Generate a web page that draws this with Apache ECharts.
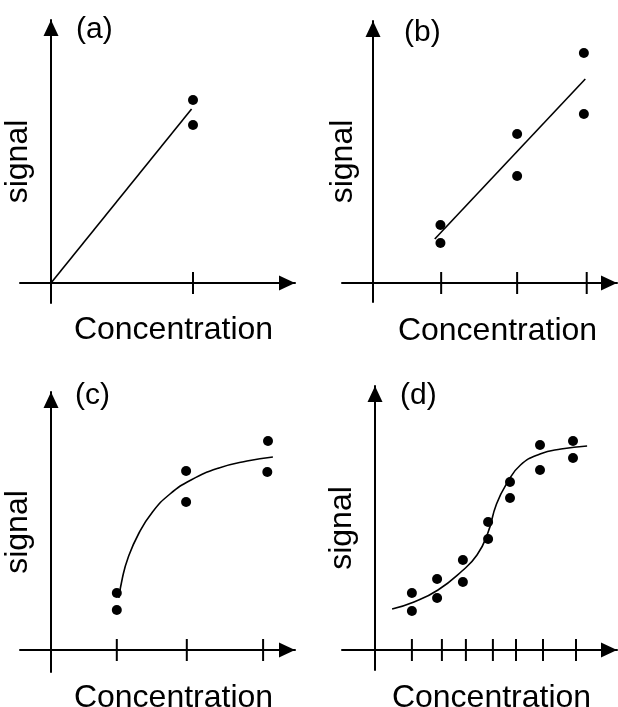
<!DOCTYPE html>
<html>
<head>
<meta charset="utf-8">
<script src="https://cdn.jsdelivr.net/npm/echarts@6/dist/echarts.min.js"></script>
<style>
  html, body { margin: 0; padding: 0; background: #fff; }
  #chart { width: 618px; height: 707px; }
</style>
</head>
<body>
<div id="chart"></div>
<script>
// ---------- DATA (concentration, signal) ----------
const xAxisName = 'Concentration';
const yAxisName = 'signal';
const panelLabels = ['(a)', '(b)', '(c)', '(d)'];

// (a) single standard, line through origin
const ticksA = [1.0];
const pointsA = [[1.0, 9.15], [1.0, 7.9]];
const fitA = [[0, 0], [0.99, 8.7]];

// (b) linear calibration
const ticksB = [0.96, 2.03, 3.01];
const pointsB = [[0.95, 2.9], [0.95, 2.0], [2.03, 7.45], [2.03, 5.35], [2.97, 11.5], [2.97, 8.45]];
const fitB = [[0.87, 2.2], [2.99, 10.2]];

// (c) saturating calibration
const ticksC = [0.94, 1.94, 3.03];
const pointsC = [[0.94, 2.85], [0.94, 2.0], [1.93, 8.95], [1.93, 7.4], [3.1, 10.45], [3.09, 8.9]];
const fitC = [[0.97, 2.6], [1.02, 3.6], [1.1, 4.6], [1.25, 5.8], [1.45, 6.9], [1.7, 7.8],
              [2.0, 8.5], [2.4, 9.1], [2.8, 9.45], [3.17, 9.65]];

// (d) sigmoidal calibration
const ticksD = [1.23, 2.23, 3.03, 3.93, 4.7, 5.6, 6.7];
const pointsD = [[1.23, 2.85], [1.23, 1.95], [2.07, 3.55], [2.07, 2.6], [2.93, 4.5], [2.93, 3.4],
                 [3.77, 6.4], [3.77, 5.55], [4.5, 8.4], [4.5, 7.6], [5.5, 10.25], [5.5, 9.0],
                 [6.6, 10.45], [6.6, 9.6]];
const fitD = [[0.57, 2.05], [1.3, 2.4], [2.1, 3.0], [2.9, 3.95], [3.4, 4.75], [3.75, 5.8],
              [4.05, 7.3], [4.4, 8.35], [4.85, 9.25], [5.5, 9.8], [6.2, 10.05], [7.07, 10.2]];

// ---------- LAYOUT ----------
const FONT = '"Liberation Sans", Arial, Helvetica, sans-serif';
const panels = [
  { xr: [20, 295],  yr: [20, 303],  o: [51, 283],  ux: 142, uy: 20, lab: [76, 15],  pad: 32,
    xGap: 11, yGap: -14, ticks: ticksA, pts: pointsA, fit: fitA, smooth: false },
  { xr: [342, 617], yr: [21, 302],  o: [373, 283], ux: 71,  uy: 20, lab: [404, 18], pad: 36,
    xGap: 13, yGap: -17, ticks: ticksB, pts: pointsB, fit: fitB, smooth: false },
  { xr: [20, 295],  yr: [392, 672], o: [51, 650],  ux: 70,  uy: 20, lab: [75, 381], pad: 32,
    xGap: 10, yGap: -14, ticks: ticksC, pts: pointsC, fit: fitC, smooth: 0.5 },
  { xr: [342, 617], yr: [386, 670], o: [375, 650], ux: 30,  uy: 20, lab: [400, 381], pad: 24,
    xGap: 12, yGap: -16, ticks: ticksD, pts: pointsD, fit: fitD, smooth: 0.5 }
];

const grid = [], xAxis = [], yAxis = [], series = [], title = [];
panels.forEach(function (p, i) {
  grid.push({
    left: p.xr[0], top: p.yr[0],
    width: p.xr[1] - p.xr[0], height: p.yr[1] - p.yr[0],
    containLabel: false, outerBoundsMode: 'none'
  });
  const axisLine = {
    show: true, onZero: true,
    symbol: ['none', 'triangle'], symbolSize: [15, 16], symbolOffset: [0, -8],
    lineStyle: { color: '#000', width: 2 }
  };
  xAxis.push({
    type: 'value', gridIndex: i,
    min: (p.xr[0] - p.o[0]) / p.ux, max: (p.xr[1] - p.o[0]) / p.ux,
    axisLine: axisLine, axisTick: { show: false }, axisLabel: { show: false },
    splitLine: { show: false },
    name: xAxisName, nameLocation: 'middle', nameGap: p.xGap,
    nameTextStyle: { fontSize: 32, fontFamily: FONT, color: '#000', padding: [0, 0, 0, p.pad] }
  });
  yAxis.push({
    type: 'value', gridIndex: i,
    min: (p.o[1] - p.yr[1]) / p.uy, max: (p.o[1] - p.yr[0]) / p.uy,
    axisLine: axisLine, axisTick: { show: false }, axisLabel: { show: false },
    splitLine: { show: false },
    name: yAxisName, nameLocation: 'middle', nameGap: p.yGap, nameRotate: 90,
    nameTextStyle: { fontSize: 32, fontFamily: FONT, color: '#000' }
  });
  title.push({
    text: panelLabels[i], left: p.lab[0], top: p.lab[1], padding: 0,
    textStyle: { fontSize: 30, fontWeight: 'normal', fontFamily: FONT, color: '#000' }
  });
  series.push({
    type: 'scatter', xAxisIndex: i, yAxisIndex: i, silent: true,
    data: p.ticks.map(function (t) { return [t, 0]; }),
    symbol: 'rect', symbolSize: [2, 22], itemStyle: { color: '#000', opacity: 1 }, z: 3
  });
  series.push({
    type: 'line', xAxisIndex: i, yAxisIndex: i, silent: true,
    data: p.fit, showSymbol: false, smooth: p.smooth,
    lineStyle: { color: '#000', width: 1.6 }, z: 4
  });
  series.push({
    type: 'scatter', xAxisIndex: i, yAxisIndex: i, silent: true,
    data: p.pts, symbol: 'circle', symbolSize: 10,
    itemStyle: { color: '#000', opacity: 1 }, z: 5
  });
});

const chart = echarts.init(document.getElementById('chart'), null, { renderer: 'canvas' });
chart.setOption({
  backgroundColor: '#fff',
  animation: false,
  title: title,
  grid: grid,
  xAxis: xAxis,
  yAxis: yAxis,
  series: series
});
</script>
</body>
</html>
